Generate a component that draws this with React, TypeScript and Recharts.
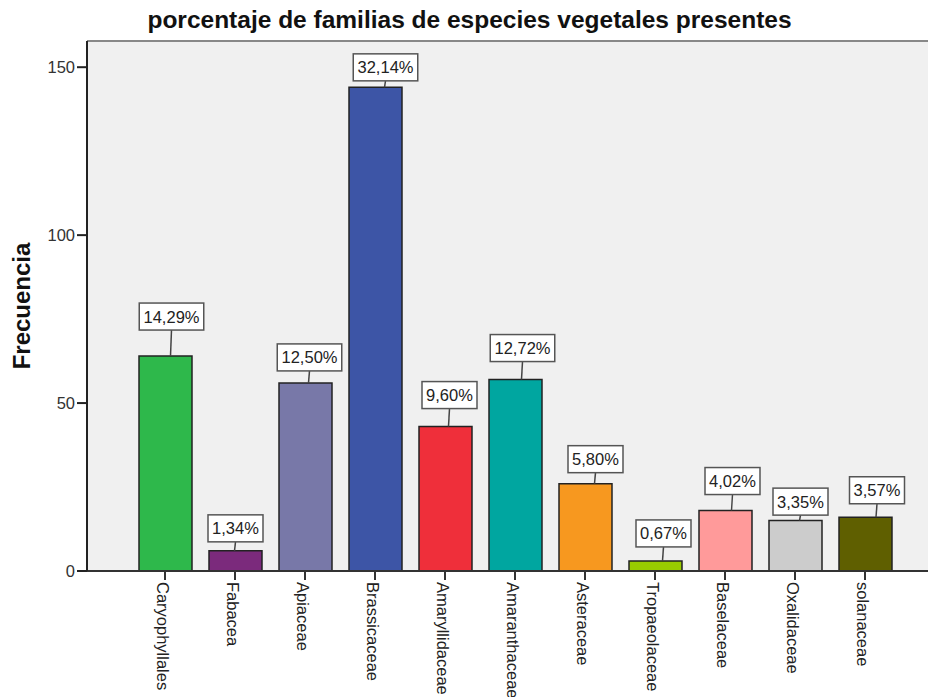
import { BarChart, Bar, XAxis, YAxis, CartesianGrid, Cell, ReferenceLine } from 'recharts';

const families = [
  'Caryophyllales',
  'Fabacea',
  'Apiaceae',
  'Brassicaceae',
  'Amaryllidaceae',
  'Amaranthaceae',
  'Asteraceae',
  'Tropaeolaceae',
  'Baselaceae',
  'Oxalidaceae',
  'solanaceae',
];
const counts = [64, 6, 56, 144, 43, 57, 26, 3, 18, 15, 16];
const barColors = [
  '#2eb84b',
  '#7b2a7c',
  '#7878a8',
  '#3d55a6',
  '#ef2f3a',
  '#00a6a0',
  '#f7981f',
  '#99cc00',
  '#ff9a9a',
  '#cccccc',
  '#5f5f00',
];
const yTicks = [0, 50, 100, 150];
const Y_MAX = 157.8;

// label callout nudges (px), as placed in the original chart
const labelDx = [6, 0, 4, 10, 4, 7, 10, 8, 7, 5, 11.5];
const labelGap = [26, 9, 12, 6.5, 18, 18, 11, 14, 16, 5.5, 13.5];

const total = counts.reduce((a, b) => a + b, 0);
const chartData = families.map((name, i) => ({
  name,
  count: counts[i],
  pct: ((counts[i] / total) * 100).toFixed(2).replace('.', ',') + '%',
}));

const FONT = '"Liberation Sans", Arial, sans-serif';

function CalloutLabel(props: any) {
  const { x, y, width, index } = props;
  const text = chartData[index].pct;
  const boxW = text.length * 9.5 + 7.5;
  const boxH = 27;
  const cx = x + width / 2 + labelDx[index];
  const bottom = y - labelGap[index];
  return (
    <g>
      <line x1={cx} y1={bottom} x2={cx - 1} y2={y} stroke="#444" strokeWidth={1.5} />
      <rect
        x={cx - boxW / 2}
        y={bottom - boxH}
        width={boxW}
        height={boxH}
        fill="#fff"
        stroke="#555"
        strokeWidth={1.5}
      />
      <text
        x={cx}
        y={bottom - boxH / 2 + 6}
        textAnchor="middle"
        fontFamily={FONT}
        fontSize={16.5}
        fill="#222"
      >
        {text}
      </text>
    </g>
  );
}

function RotatedTick(props: any) {
  const { x, y, payload } = props;
  return (
    <text
      transform={`translate(${x - 8},${y}) rotate(90)`}
      textAnchor="start"
      fontFamily={FONT}
      fontSize={16.5}
      fill="#222"
    >
      {payload.value}
    </text>
  );
}

function YTitle(props: any) {
  const { viewBox } = props;
  const cy = viewBox.y + viewBox.height / 2;
  return (
    <text
      transform={`translate(30,${cy}) rotate(-90)`}
      textAnchor="middle"
      fontFamily={FONT}
      fontSize={24}
      fontWeight="bold"
      fill="#111"
    >
      Frecuencia
    </text>
  );
}

export default function App() {
  return (
    <div style={{ position: 'absolute', left: 0, top: 0, width: 928, height: 697, background: '#fff', overflow: 'hidden' }}>
      <svg width={928} height={40} style={{ position: 'absolute', left: 0, top: 0 }}>
        <text
          x={469.5}
          y={28}
          textAnchor="middle"
          fontFamily={FONT}
          fontSize={24.5}
          fontWeight="bold"
          fill="#111"
        >
          porcentaje de familias de especies vegetales presentes
        </text>
      </svg>
      <BarChart
        width={928}
        height={697}
        data={chartData}
        margin={{ top: 41, right: 0, left: 0, bottom: 0 }}
      >
        <CartesianGrid fill="#f0f0f0" horizontal={false} vertical={false} />
        <XAxis
          dataKey="name"
          height={126}
          interval={0}
          padding={{ left: 43, right: 28 }}
          axisLine={{ stroke: '#333', strokeWidth: 2 }}
          tickLine={{ stroke: '#333', strokeWidth: 2 }}
          tickSize={9}
          tickMargin={2}
          tick={<RotatedTick />}
        />
        <YAxis
          width={87}
          domain={[0, Y_MAX]}
          ticks={yTicks}
          axisLine={{ stroke: '#222', strokeWidth: 2 }}
          tickLine={{ stroke: '#222', strokeWidth: 2 }}
          tickSize={10}
          tickMargin={2}
          tick={{ fontFamily: FONT, fontSize: 16.5, fill: '#333' }}
          label={<YTitle />}
        />
        <ReferenceLine y={Y_MAX} stroke="#888" strokeWidth={2} />
        <Bar
          dataKey="count"
          barSize={53}
          stroke="#222"
          strokeWidth={1.5}
          isAnimationActive={false}
          label={<CalloutLabel />}
        >
          {chartData.map((d, i) => (
            <Cell key={d.name} fill={barColors[i]} />
          ))}
        </Bar>
      </BarChart>
    </div>
  );
}
